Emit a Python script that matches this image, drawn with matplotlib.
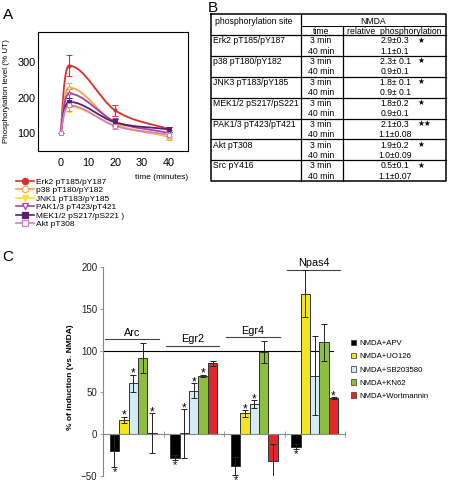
import matplotlib.pyplot as plt
import numpy as np
from matplotlib.path import Path
from matplotlib.patches import PathPatch, Patch
from matplotlib.lines import Line2D

plt.rcParams['font.family'] = ['Liberation Sans', 'DejaVu Sans']

W, H = 449, 486  # figure size in pixels

# --- Panel A: phosphorylation time course (% of untreated) ---
time_min = [0, 3, 20, 40]
kinase_labels = ["Erk2 pT185/pY187", "p38 pT180/pY182", "JNK1 pT183/pY185",
                 "PAK1/3 pT423/pT421", "MEK1/2 pS217/pS221 )", "Akt pT308"]
erk2 = [100, 290, 164, 110]
p38 = [100, 228, 128, 89]
jnk1 = [100, 174, 122, 92]
pak13 = [100, 211, 132, 100]
mek12 = [100, 188, 130, 110]
akt = [100, 178, 120, 95]
erk2_err = [0, 30, 15, 8]
p38_err = [0, 12, 10, 10]
jnk1_err = [0, 15, 10, 8]
pak13_err = [0, 12, 10, 8]
mek12_err = [0, 12, 10, 8]
akt_err = [0, 15, 10, 8]

# --- Panel B: table ---
sites = ["Erk2 pT185/pY187", "p38 pT180/pY182", "JNK3 pT183/pY185",
         "MEK1/2 pS217/pS221", "PAK1/3 pT423/pT421", "Akt pT308", "Src pY416"]
val_3min = ["2.9\u00b10.3", "2.3\u00b1 0.1", "1.8\u00b1 0.1", "1.8\u00b10.2",
            "2.1\u00b10.3", "1.9\u00b10.2", "0.5\u00b10.1"]
sig_3min = ["\u2605", "\u2605", "\u2605", "\u2605", "\u2605\u2605", "\u2605", "\u2605"]
val_40min = ["1.1\u00b10.1", "0.9\u00b10.1", "0.9\u00b1 0.1", "0.9\u00b10.1",
             "1.1\u00b10.08", "1.0\u00b10.09", "1.1\u00b10.07"]

# --- Panel C: % of induction vs NMDA ---
genes = ["Arc", "Egr2", "Egr4", "Npas4"]
treatments = ["NMDA+APV", "NMDA+UO126", "NMDA+SB203580", "NMDA+KN62", "NMDA+Wortmannin"]
apv = [-20, -28, -38, -15]
uo126 = [17, 1, 25, 168]
sb203580 = [61, 52, 36, 70]
kn62 = [91, 70, 98, 110]
wortmannin = [1, 85, -32, 43]
apv_err = [19, 3, 11, 3]
uo126_err = [4, 29, 4, 28]
sb203580_err = [10, 9, 5, 47]
kn62_err = [18, 1, 13, 22]
wortmannin_err = [24, 3, 20, 1]
# significance star: 1 above the bar, -1 below, 0 none
apv_sig = [-1, -1, -1, -1]
uo126_sig = [1, 1, 1, 0]
sb203580_sig = [1, 1, 1, 0]
kn62_sig = [0, 1, 0, 0]
wortmannin_sig = [1, 0, -1, 1]
gene_line_level = [114, 106, 116, 197]


def smooth_path(x, y):
    """Cubic Bezier path through the measured points (monotone tangents)."""
    x = np.asarray(x, float)
    y = np.asarray(y, float)
    d = np.diff(y) / np.diff(x)
    m = np.zeros(len(x))
    m[0] = 2.5 * d[0]
    m[-1] = d[-1]
    for k in range(1, len(x) - 1):
        m[k] = 0 if d[k - 1] * d[k] <= 0 else (d[k - 1] + d[k]) / 2
    verts = [(x[0], y[0])]
    codes = [Path.MOVETO]
    for k in range(len(x) - 1):
        h = x[k + 1] - x[k]
        verts += [(x[k] + h / 3, y[k] + m[k] * h / 3),
                  (x[k + 1] - h / 3, y[k + 1] - m[k + 1] * h / 3),
                  (x[k + 1], y[k + 1])]
        codes += [Path.CURVE4] * 3
    return Path(verts, codes)


fig = plt.figure(figsize=(W / 100, H / 100), dpi=100)

# ================= Panel A =================
ax_a = fig.add_axes([38 / W, 1 - 151 / H, 150 / W, 119 / H])
series_a = [
    (erk2, erk2_err, "#d7302c", "o", "#d7302c"),
    (p38, p38_err, "#f0a455", "o", "white"),
    (jnk1, jnk1_err, "#f2e23a", "v", "#f2e23a"),
    (pak13, pak13_err, "#a4459e", "v", "white"),
    (mek12, mek12_err, "#5b1f6b", "s", "#5b1f6b"),
    (akt, akt_err, "#d77cc6", "s", "white"),
]
handles_a = []
for (vals, err, c, mk, fc), lab in zip(series_a, kinase_labels):
    ax_a.add_patch(PathPatch(smooth_path(time_min, vals), facecolor="none",
                             edgecolor=c, lw=1.3))
    ax_a.errorbar(time_min, vals, yerr=err, fmt=mk, color=c, ms=2.2,
                  mfc=fc, mec=c, mew=0.7, elinewidth=0.8, capsize=2, capthick=0.8)
    handles_a.append(Line2D([], [], color=c, marker=mk, ms=4.5, mfc=fc, mec=c,
                            mew=0.9, lw=1.2, label=lab))
ax_a.set_xlim(-8.5, 47)
ax_a.set_ylim(49, 385)
ax_a.set_xticks([0, 10, 20, 30, 40])
ax_a.set_yticks([100, 200, 300])
ax_a.tick_params(length=0, labelsize=7.8, pad=2)
ax_a.tick_params(axis="x", pad=5)
for s in ax_a.spines.values():
    s.set_linewidth(0.8)
fig.text(7 / W, 1 - 91 / H, "Phosphorylation level (% UT)", rotation=90,
         fontsize=5.8, ha="center", va="center")
fig.text(188 / W, 1 - 177 / H, "time (minutes)", fontsize=6, ha="right", va="center")
fig.legend(handles=handles_a, loc="upper left", bbox_to_anchor=(16 / W, 1 - 178 / H),
           fontsize=6, handlelength=2.2, handletextpad=0.25, labelspacing=0.08,
           frameon=False, borderpad=0, borderaxespad=0)

# ================= Panel B (table) =================
tab = fig.add_axes([0, 0, 1, 1])
tab.set_xlim(0, W)
tab.set_ylim(H, 0)
tab.axis("off")
tx0, tx1, ty0, ty_head = 211, 446, 14, 35
col1, col2 = 301, 343
row_h = 20.9
ty1 = ty_head + row_h * len(sites)
tab.plot([tx0, tx1, tx1, tx0, tx0], [ty0, ty0, ty1, ty1, ty0], color="black", lw=1.1)
tab.plot([col1, col1], [ty0, ty1], color="black", lw=0.9)
tab.plot([col2, col2], [26.5, ty1], color="black", lw=0.9)
tab.plot([col1, tx1], [26.5, 26.5], color="black", lw=0.7)
for k in range(len(sites)):
    yy = ty_head + k * row_h
    tab.plot([tx0, tx1], [yy, yy], color="black", lw=0.9)
tfs = 6.2
tab.text(215, 22, "phosphorylation site", fontsize=tfs, va="center")
tab.text(373, 21, "NMDA", fontsize=tfs, ha="center", va="center")
tab.text(321, 31, "time", fontsize=tfs, ha="center", va="center")
tab.text(394, 31, "relative  phosphorylation", fontsize=tfs, ha="center", va="center")
for k, site in enumerate(sites):
    y0 = ty_head + k * row_h
    tab.text(213, y0 + 5.5, site, fontsize=tfs, va="center")
    tab.text(321, y0 + 5.5, "3 min", fontsize=tfs, ha="center", va="center")
    tab.text(321, y0 + 16, "40 min", fontsize=tfs, ha="center", va="center")
    tab.text(395, y0 + 5.5, val_3min[k], fontsize=tfs, ha="center", va="center")
    tab.text(417, y0 + 6, sig_3min[k], fontsize=5.5, ha="left", va="center")
    tab.text(395, y0 + 16, val_40min[k], fontsize=tfs, ha="center", va="center")

# ================= Panel C =================
ax_c = fig.add_axes([103 / W, 1 - 476 / H, 242 / W, 209 / H])
x = np.arange(len(genes))
bw = 0.155
bar_colors = ["#000000", "#f3e520", "#d4ebf4", "#8dbf3f", "#e3262a"]
series_c = [(apv, apv_err, apv_sig), (uo126, uo126_err, uo126_sig),
            (sb203580, sb203580_err, sb203580_sig), (kn62, kn62_err, kn62_sig),
            (wortmannin, wortmannin_err, wortmannin_sig)]
for i, ((vals, err, sig), col) in enumerate(zip(series_c, bar_colors)):
    xs = x + (i - 2) * bw
    ax_c.bar(xs, vals, bw, color=col, edgecolor="#333333", lw=0.7, zorder=2)
    ax_c.errorbar(xs, vals, yerr=err, fmt="none", ecolor="#222222",
                  elinewidth=0.7, capsize=2, capthick=0.7, zorder=3)
    for xi, v, e, s in zip(xs, vals, err, sig):
        if s > 0:
            ax_c.annotate("*", (xi, v + e), xytext=(0, -1.5), textcoords="offset points",
                          ha="center", va="baseline", fontsize=8.5)
        elif s < 0:
            ax_c.annotate("*", (xi, v - e), xytext=(0, 0), textcoords="offset points",
                          ha="center", va="top", fontsize=8)
for xi, g, lvl in zip(x, genes, gene_line_level):
    ax_c.plot([xi - 0.46, xi + 0.42], [lvl, lvl], color="#444444", lw=0.8, clip_on=False)
    ax_c.annotate(g, (xi - 0.02, lvl), xytext=(0, 1), textcoords="offset points",
                  ha="center", va="bottom", fontsize=7.8)
ax_c.axhline(100, xmin=0, xmax=0.95, color="black", lw=0.8, zorder=1)
ax_c.set_xlim(-0.5, 3.5)
ax_c.set_ylim(-50, 200)
ax_c.set_yticks([-50, 0, 50, 100, 150, 200])
ax_c.set_xticks([-0.5, 0.5, 1.5, 2.5, 3.5])
ax_c.set_xticklabels([])
ax_c.spines["top"].set_visible(False)
ax_c.spines["right"].set_visible(False)
ax_c.spines["bottom"].set_position(("data", 0))
for s in ("left", "bottom"):
    ax_c.spines[s].set_color("#888888")
    ax_c.spines[s].set_linewidth(0.8)
ax_c.tick_params(axis="y", length=2, width=0.6, color="#888888", labelsize=7,
                 labelcolor="#222222", pad=2)
ax_c.tick_params(axis="x", direction="inout", length=4, width=0.6, color="#888888")
ax_c.patch.set_visible(False)
fig.text(70 / W, 1 - 377 / H, "% of induction (vs. NMDA)", rotation=90,
         fontsize=6, fontweight="bold", ha="center", va="center")
handles_c = [Patch(facecolor=c, edgecolor="#333333", lw=0.5, label=t)
             for c, t in zip(bar_colors, treatments)]
fig.legend(handles=handles_c, loc="upper left", bbox_to_anchor=(351 / W, 1 - 340 / H),
           fontsize=5.6, handlelength=0.7, handleheight=0.7, handletextpad=0.4,
           labelspacing=0.72, frameon=False, borderpad=0, borderaxespad=0)

# --- Panel letters ---
fig.text(3 / W, 1 - 15 / H, "A", fontsize=11, va="center")
fig.text(208 / W, 1 - 8 / H, "B", fontsize=11, va="center")
fig.text(2 / W, 1 - 257 / H, "C", fontsize=11, va="center")

fig.savefig("out.png", dpi=100)
plt.close(fig)
